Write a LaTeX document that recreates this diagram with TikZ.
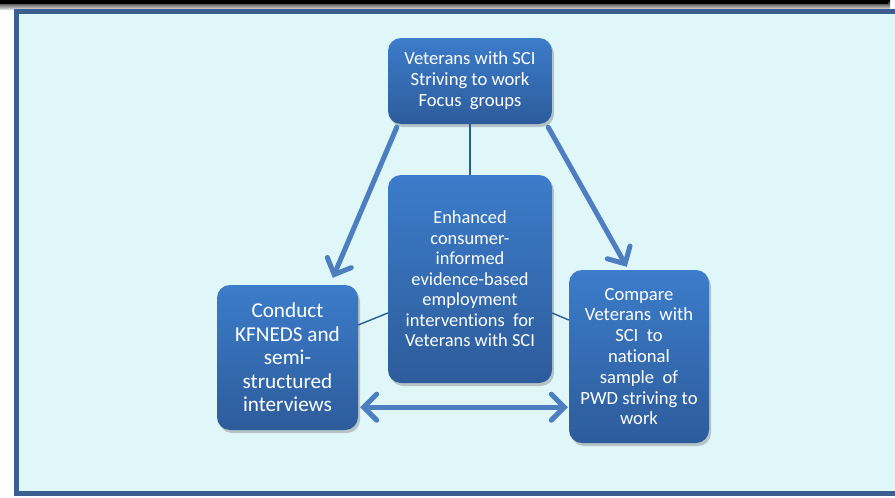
\documentclass[tikz,border=0pt]{standalone}
\usepackage{fontspec}
\setmainfont{Carlito}[Ligatures=NoCommon]
\usetikzlibrary{arrows.meta,shadows}
\definecolor{bgcyan}{RGB}{224,247,250}
\definecolor{framebl}{RGB}{59,95,142}
\definecolor{boxtop}{RGB}{60,124,202}
\definecolor{boxbot}{RGB}{45,92,155}
\definecolor{arrowbl}{RGB}{76,126,192}
\definecolor{thinbl}{RGB}{46,91,144}
\tikzset{
  box/.style={rounded corners=13pt, top color=boxtop, bottom color=boxbot,
    text=white, align=center, inner sep=0pt,
    drop shadow={shadow xshift=2pt, shadow yshift=-3pt, opacity=0.35, fill=black!60}},
  bigarrow/.style={draw=arrowbl, line width=5pt, line cap=round,
    -{Straight Barb[length=13pt,width=26pt,line cap=round]}},
  dblarrow/.style={draw=arrowbl, line width=5pt, line cap=round,
    {Straight Barb[length=13pt,width=26pt,line cap=round]}-{Straight Barb[length=13pt,width=26pt,line cap=round]}},
  thin/.style={draw=thinbl, line width=1.4pt}
}
\begin{document}
\begin{tikzpicture}[x=1pt,y=-1pt]
\useasboundingbox (0,0) rectangle (895,498);
% top dark band
\fill[top color=black, bottom color=black!15] (0,0) rectangle (890,9);
\fill[black] (0,0) rectangle (888,4);
% frame
\begin{scope}
\clip (0,0) rectangle (895,498);
\draw[framebl, line width=5pt, fill=bgcyan] (16.5,11.5) rectangle (905,493.5);
\end{scope}
% nodes
\node[box, minimum width=164pt, minimum height=86pt, font=\fontsize{18.6}{21}\selectfont] (top) at (470,81)
  {Veterans with SCI\\Striving to work\\Focus~ groups};
\node[box, minimum width=164pt, minimum height=208pt, font=\fontsize{18.4}{20.5}\selectfont] (mid) at (470,279)
  {Enhanced\\consumer-\\informed\\evidence-based\\employment\\interventions~ for\\Veterans with SCI};
\node[box, minimum width=141pt, minimum height=145pt, font=\fontsize{21.2}{23.5}\selectfont] (left) at (287.5,357.5)
  {Conduct\\KFNEDS and\\semi-\\structured\\interviews};
\node[box, minimum width=140pt, minimum height=173pt, font=\fontsize{18.6}{20.8}\selectfont] (right) at (639,356.5)
  {Compare\\Veterans~ with\\SCI~ to\\national\\sample~ of\\PWD striving to\\work};
% thin connectors
\draw[thin] (top.south) -- (mid.north);
\draw[thin] ([yshift=32.5pt]left.east) -- ([yshift=-34pt]mid.west);
\draw[thin] ([yshift=-34pt]mid.east) -- ([yshift=36.5pt]right.west);
% arrows
\draw[bigarrow] ([xshift=9pt,yshift=-3pt]top.south west) -- ([xshift=116pt,yshift=7pt]left.north west);
\draw[bigarrow] ([xshift=-4pt,yshift=-3pt]top.south east) -- ([xshift=58pt,yshift=3pt]right.north west);
\draw[dblarrow] ([xshift=2pt,yshift=23pt]left.south east) -- ([xshift=-1pt,yshift=36pt]right.south west);
\end{tikzpicture}
\end{document}
